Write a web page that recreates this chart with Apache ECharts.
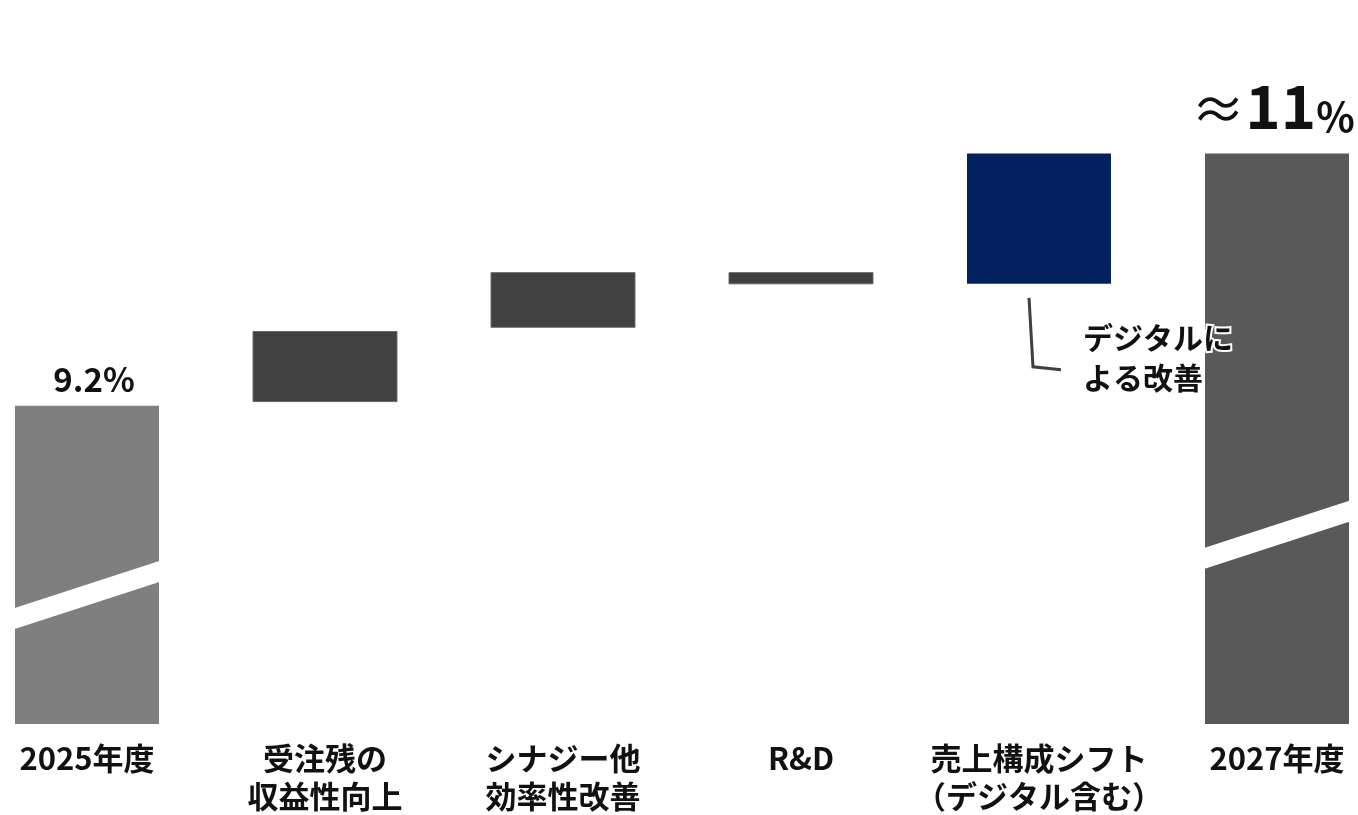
<!DOCTYPE html>
<html>
<head>
<meta charset="utf-8">
<script src="https://cdn.jsdelivr.net/npm/echarts@6/dist/echarts.min.js"></script>
<style>
  html, body { margin: 0; padding: 0; background: #fff; }
  #chart { width: 1358px; height: 815px; }
</style>
</head>
<body>
<div id="chart"></div>
<script>
// 営業利益率ブリッジ（2025年度 → 2027年度）
const categories = ['2025年度', '受注残の\n収益性向上', 'シナジー他\n効率性改善', 'R&D', '売上構成シフト\n（デジタル含む）', '2027年度'];
// floating bars: bottom / top of each bar in %; null = total bar rising from the axis floor
const barBottom = [null, 9.23, 9.76, 10.07, 10.07, null];
const barTop = [9.2, 9.73, 10.15, 10.15, 11.0, 11.0];
const startLabel = '9.2%';
const endLabel = { approx: '≈', value: '11', unit: '%' };
const noteText = 'デジタルに\nよる改善';

// the value axis is broken: it starts well above zero
const Y_MIN = 6.93;
const Y_MAX = 12.095;
const FONT = "'Noto Sans CJK JP', 'Noto Sans', sans-serif";
const barColors = ['#7f7f7f', '#404040', '#404040', '#404040', '#03215f', '#595959'];
// where the slanted break cut crosses the total bars (left edge, in axis units)
const breakCut = { 0: 7.68, 5: 8.11 };

const seriesData = categories.map((c, i) => [i, barBottom[i] == null ? Y_MIN : barBottom[i], barTop[i]]);

function renderItem(params, api) {
  const i = api.value(0);
  const topPt = api.coord([i, api.value(2)]);
  const botPt = api.coord([i, api.value(1)]);
  // category points are one step apart (boundaryGap off)
  const step = api.coord([1, Y_MIN])[0] - api.coord([0, Y_MIN])[0];
  const w = step * 0.605;
  const x0 = topPt[0] - w / 2;
  const isStep = i >= 1 && i <= 3;
  const children = [{
    type: 'rect',
    shape: { x: x0, y: topPt[1], width: w, height: botPt[1] - topPt[1] },
    style: {
      fill: barColors[i],
      stroke: isStep ? '#6a6a6a' : null,
      lineWidth: isStep ? 1 : 0
    }
  }];

  if (breakCut[i] != null) {
    const yMid = api.coord([i, breakCut[i]])[1];
    const rise = w * 0.33;
    const t = 21;
    children.push({
      type: 'polygon',
      shape: {
        points: [
          [x0 - 1, yMid - t / 2],
          [x0 + w + 1, yMid - rise - t / 2],
          [x0 + w + 1, yMid - rise + t / 2],
          [x0 - 1, yMid + t / 2]
        ]
      },
      style: { fill: '#ffffff' }
    });
  }

  if (i === 0) {
    children.push({
      type: 'text',
      z2: 50,
      style: {
        text: startLabel,
        x: topPt[0] + 7,
        y: topPt[1] - 10,
        align: 'center',
        verticalAlign: 'bottom',
        font: 'bold 33px ' + FONT,
        fill: '#111'
      }
    });
  }

  if (i === categories.length - 1) {
    children.push({
      type: 'text',
      z2: 50,
      style: {
        text: '{a|' + endLabel.approx + '}{b|' + endLabel.value + '}{c|' + endLabel.unit + '}',
        x: topPt[0] - 4,
        y: topPt[1] - 17,
        align: 'center',
        verticalAlign: 'bottom',
        rich: {
          a: { fontSize: 54, fontFamily: FONT, fontWeight: 'normal', fill: '#111', verticalAlign: 'bottom', lineHeight: 66 },
          b: { fontSize: 60, fontFamily: FONT, fontWeight: 'bold', fill: '#111', verticalAlign: 'bottom', lineHeight: 64 },
          c: { fontSize: 40, fontFamily: FONT, fontWeight: 'bold', fill: '#111', verticalAlign: 'bottom', lineHeight: 47 }
        }
      }
    });
  }

  if (i === 4) {
    // leader line and note under the product-mix bar
    const yb = botPt[1];
    children.push({
      type: 'polyline',
      z2: 40,
      shape: { points: [[x0 + 62, yb + 14], [x0 + 66, yb + 83], [x0 + 94, yb + 86]] },
      style: { stroke: '#404040', lineWidth: 3, fill: null }
    });
    children.push({
      type: 'text',
      z2: 100,
      style: {
        text: noteText,
        x: x0 + 116,
        y: yb + 34,
        align: 'left',
        verticalAlign: 'top',
        font: 'bold 30px ' + FONT,
        lineHeight: 40,
        fill: '#111',
        stroke: '#ffffff',
        lineWidth: 4
      }
    });
  }

  return { type: 'group', children: children };
}

const chart = echarts.init(document.getElementById('chart'), null, { renderer: 'canvas' });
chart.setOption({
  animation: false,
  backgroundColor: '#ffffff',
  grid: { left: 87, right: 81, top: 0, bottom: 89, containLabel: false },
  xAxis: {
    type: 'category',
    data: categories,
    boundaryGap: false,
    axisLine: { show: false },
    axisTick: { show: false },
    axisLabel: {
      interval: 0,
      margin: 15,
      fontSize: 31,
      fontWeight: 'bold',
      fontFamily: FONT,
      color: '#111',
      lineHeight: 38
    }
  },
  yAxis: {
    type: 'value',
    min: Y_MIN,
    max: Y_MAX,
    show: false,
    splitLine: { show: false }
  },
  series: [{
    type: 'custom',
    renderItem: renderItem,
    encode: { x: 0, y: [1, 2] },
    data: seriesData,
    clip: false
  }]
});
</script>
</body>
</html>
